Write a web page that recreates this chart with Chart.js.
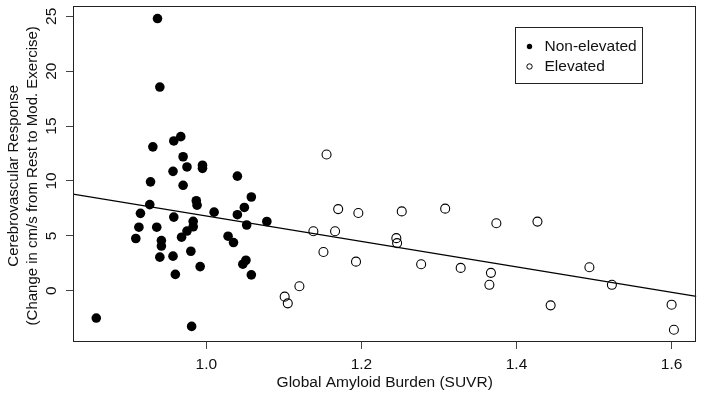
<!DOCTYPE html>
<html>
<head>
<meta charset="utf-8">
<script src="https://cdn.jsdelivr.net/npm/chart.js@4/dist/chart.umd.min.js"></script>
<style>
  body { margin: 0; background: #fff; }
  #wrap { width: 702px; height: 393px; }
</style>
</head>
<body>
<div id="wrap"><canvas id="chart" width="702" height="393"></canvas></div>
<script>
// ---- data ----
const xTicks = [1.0, 1.2, 1.4, 1.6];
const yTicks = [0, 5, 10, 15, 20, 25];
const xRange = [0.828, 1.632];
const yRange = [-4.67, 25.98];

// Non-elevated amyloid (filled)
const nonElevSUVR = [0.858, 0.937, 0.940, 0.967, 0.958, 0.931, 0.970, 0.975, 0.995, 0.995,
    0.957, 1.040, 0.928, 0.970, 1.058, 0.987, 0.988, 0.927, 0.915, 0.958,
    1.010, 1.040, 1.049, 1.078, 1.052, 0.983, 0.983, 0.975, 0.968, 0.913,
    0.936, 0.909, 0.942, 0.942, 1.028, 1.035, 0.980, 0.940, 0.957, 0.992,
    1.051, 1.047, 1.058, 0.960, 0.981];
const nonElevResp = [-2.49, 24.80, 18.56, 14.04, 13.65, 13.11, 12.21, 11.28, 11.44, 11.15,
    10.88, 10.44, 9.92, 9.61, 8.54, 8.20, 7.80, 7.85, 7.05, 6.71,
    7.16, 6.93, 7.59, 6.31, 5.99, 6.33, 5.83, 5.44, 4.88, 5.79,
    5.79, 4.76, 4.57, 4.07, 4.97, 4.39, 3.60, 3.06, 3.15, 2.20,
    2.78, 2.42, 1.45, 1.49, -3.25];

// Elevated amyloid (open)
const elevSUVR = [1.155, 1.170, 1.196, 1.252, 1.308, 1.374, 1.427, 1.138, 1.166, 1.245,
    1.246, 1.151, 1.193, 1.277, 1.328, 1.367, 1.365, 1.494, 1.523, 1.444,
    1.600, 1.603, 1.120, 1.101, 1.105];
const elevResp = [12.41, 7.44, 7.08, 7.23, 7.48, 6.15, 6.30, 5.42, 5.42, 4.79,
    4.34, 3.53, 2.65, 2.41, 2.08, 1.63, 0.54, 2.14, 0.54, -1.33,
    -1.27, -3.55, 0.41, -0.54, -1.15];

// fitted line: resp = intercept + slope * SUVR
const fitIntercept = 18.39;
const fitSlope = -11.58;

const seriesLabels = ["Non-elevated", "Elevated"];
const xTitle = "Global Amyloid Burden (SUVR)";
const yTitle = ["Cerebrovascular Response", "(Change in cm/s from Rest to Mod. Exercise)"];

const FONT = "'Liberation Sans', Arial, sans-serif";

const toPts = (xs, ys) => xs.map((x, i) => ({ x: x, y: ys[i] }));
const fitPts = xRange.map(x => ({ x: x, y: fitIntercept + fitSlope * x }));

// box, rotated y labels, legend (R style)
const rStyle = {
    id: "rStyle",
    afterDraw(chart) {
        const ctx = chart.ctx;
        const a = chart.chartArea;
        const ys = chart.scales.y;
        ctx.save();
        ctx.strokeStyle = "#222";
        ctx.lineWidth = 1;
        ctx.strokeRect(Math.round(a.left) + 0.5, Math.round(a.top) + 0.5,
            Math.round(a.right - a.left) - 1, Math.round(a.bottom - a.top) - 1);

        ctx.fillStyle = "#111";
        ctx.font = "15.5px " + FONT;
        ctx.textAlign = "center";
        ctx.textBaseline = "middle";
        ys.ticks.forEach(t => {
            const py = ys.getPixelForValue(t.value);
            ctx.save();
            ctx.translate(52, py);
            ctx.rotate(-Math.PI / 2);
            ctx.fillText(String(t.value), 0, 0);
            ctx.restore();
        });
        ctx.font = "15px " + FONT;
        const cy = (a.top + a.bottom) / 2 + 2;
        yTitle.forEach((line, i) => {
            ctx.save();
            ctx.translate(14 + i * 19, cy);
            ctx.rotate(-Math.PI / 2);
            ctx.fillText(line, 0, 0);
            ctx.restore();
        });

        // legend
        const bw = 127, bh = 56;
        const bx = Math.round(a.right - 54 - bw) + 0.5;
        const by = Math.round(a.top + 21) + 0.5;
        ctx.strokeStyle = "#222";
        ctx.strokeRect(bx, by, bw, bh);
        ctx.textAlign = "left";
        ctx.font = "15.5px " + FONT;
        chart.data.datasets.slice(0, 2).forEach((ds, i) => {
            const ry = by + 19 + i * 20;
            ctx.beginPath();
            ctx.arc(bx + 14, ry, 2.7, 0, Math.PI * 2);
            if (i === 0) { ctx.fillStyle = "#000"; ctx.fill(); }
            else { ctx.strokeStyle = "#000"; ctx.lineWidth = 1; ctx.stroke(); }
            ctx.fillStyle = "#111";
            ctx.fillText(ds.label, bx + 29, ry);
        });
        ctx.restore();
    }
};

const gridOpts = {
    drawOnChartArea: false,
    drawTicks: true,
    tickLength: 7,
    tickColor: "#444",
    tickWidth: 1
};

new Chart(document.getElementById("chart"), {
    type: "scatter",
    data: {
        datasets: [
            {
                label: seriesLabels[0],
                data: toPts(nonElevSUVR, nonElevResp),
                backgroundColor: "#000",
                borderColor: "#000",
                borderWidth: 0,
                pointRadius: 4.8
            },
            {
                label: seriesLabels[1],
                data: toPts(elevSUVR, elevResp),
                backgroundColor: "rgba(0,0,0,0)",
                borderColor: "#000",
                borderWidth: 1.1,
                pointRadius: 4.5
            },
            {
                label: "fit",
                type: "line",
                data: fitPts,
                borderColor: "#000",
                borderWidth: 1.2,
                pointRadius: 0,
                fill: false,
                tension: 0
            }
        ]
    },
    options: {
        responsive: false,
        animation: false,
        events: [],
        layout: { padding: { top: 3, right: 4, left: 0, bottom: 0 } },
        plugins: { legend: { display: false }, tooltip: { enabled: false } },
        scales: {
            x: {
                type: "linear",
                min: xRange[0],
                max: xRange[1],
                afterBuildTicks: s => { s.ticks = xTicks.map(v => ({ value: v })); },
                afterFit: s => { s.height = 51; },
                ticks: {
                    callback: v => Number(v).toFixed(1),
                    font: { size: 15.5, family: FONT },
                    color: "#111",
                    padding: 6,
                    maxRotation: 0,
                    autoSkip: false
                },
                grid: gridOpts,
                border: { display: false },
                title: {
                    display: true,
                    text: xTitle,
                    font: { size: 15.5, family: FONT },
                    color: "#111",
                    padding: { top: 0, bottom: 1 }
                }
            },
            y: {
                type: "linear",
                min: yRange[0],
                max: yRange[1],
                afterBuildTicks: s => { s.ticks = yTicks.map(v => ({ value: v })); },
                afterFit: s => { s.width = 73; },
                ticks: { display: false },
                grid: gridOpts,
                border: { display: false }
            }
        }
    },
    plugins: [rStyle]
});
</script>
</body>
</html>
